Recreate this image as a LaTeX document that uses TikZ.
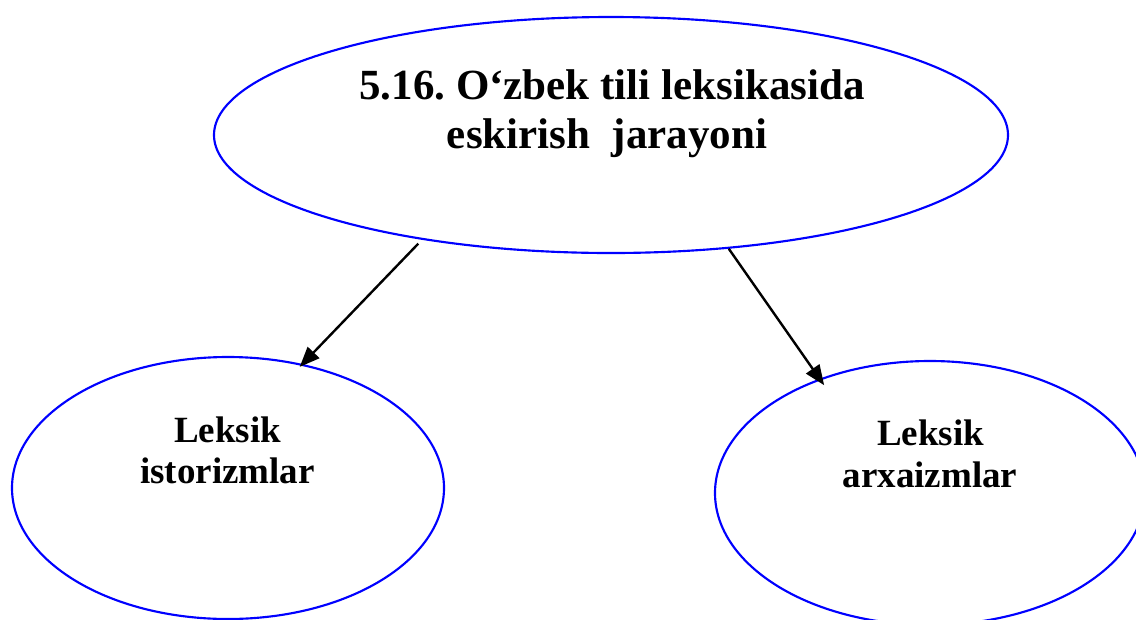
\documentclass[tikz,border=0pt]{standalone}
\usepackage{fontspec}
\setmainfont{Liberation Serif}
\usetikzlibrary{shapes.geometric,arrows.meta}
\definecolor{ellblue}{RGB}{0,0,255}
\frenchspacing
\tikzset{
  oval/.style={draw=ellblue, line width=1.6pt, ellipse, inner sep=0pt},
  bigtxt/.style={font=\bfseries\fontsize{32.25}{36}\selectfont, anchor=base, inner sep=0pt},
  smalltxt/.style={font=\bfseries\fontsize{27.75}{31}\selectfont, anchor=base, inner sep=0pt},
  arr/.style={line width=1.8pt, -{Triangle[length=15pt,width=12pt]}}
}
\begin{document}
\begin{tikzpicture}[x=0.75pt,y=-0.75pt]
\useasboundingbox (0,0) rectangle (1136,619);
\node[oval, minimum width=794*0.75pt, minimum height=236*0.75pt] (top) at (611,135) {};
\node[oval, minimum width=432*0.75pt, minimum height=262*0.75pt] (left) at (228,488) {};
\node[oval, minimum width=430*0.75pt, minimum height=264*0.75pt] (right) at (930,493) {};
\node[bigtxt] (t1) at (612,99) {5.16. O‘zbek tili leksikasida};
\node[bigtxt] (t2) at (607,148) {eskirish\ \ jarayoni};
\node[smalltxt] (l1) at (227.5,442) {Leksik};
\node[smalltxt] (l2) at (227.5,483) {istorizmlar};
\node[smalltxt] (r1) at (930.5,445) {Leksik};
\node[smalltxt] (r2) at (930,487) {arxaizmlar};
\draw[arr, shorten <=4pt, shorten >=-3pt] (top.209.5) -- (left.59.5);
\draw[arr, shorten >=-6pt] (top.316.5) -- (right.134);
\end{tikzpicture}
\end{document}
